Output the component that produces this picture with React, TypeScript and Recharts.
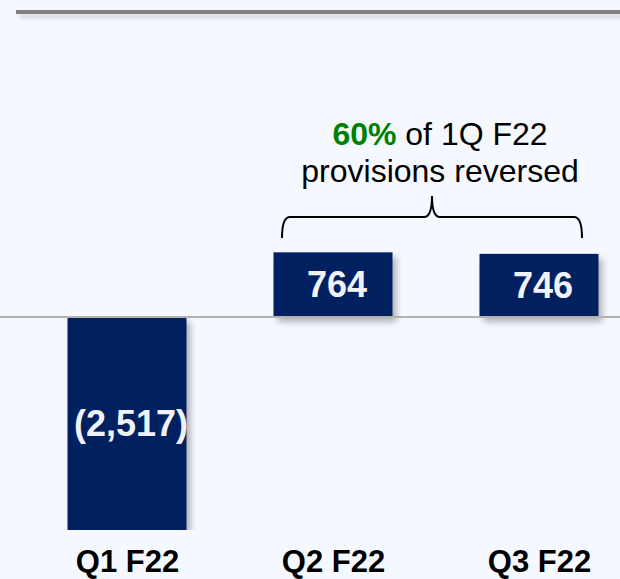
import React from 'react';
import { BarChart, Bar, XAxis, YAxis, ReferenceLine, LabelList } from 'recharts';

// quarterly provision movements
const quarters = ['Q1 F22', 'Q2 F22', 'Q3 F22'];
const provisions = [-2517, 764, 746];

const data = quarters.map((quarter, i) => ({ idx: i, quarter, value: provisions[i] }));

const W = 620;
const H = 579;
const NAVY = '#002060';
const BG = '#f5f8fe';
const FONT = '"Liberation Sans", Arial, Helvetica, sans-serif';

const PLOT_H = 530;
const ZERO_Y = 317;
const lo = Math.min(...provisions);
const hi = (-lo * ZERO_Y) / (PLOT_H - ZERO_Y);

const fmt = (v: number) =>
  v < 0 ? `(${Math.abs(v).toLocaleString('en-US')})` : v.toLocaleString('en-US');

const ShadowBar = (props: any) => {
  const { x, y, width, height } = props;
  const top = Math.min(y, y + height);
  const h = Math.abs(height);
  return (
    <rect
      x={x}
      y={top}
      width={width}
      height={h}
      fill={NAVY}
      style={{ filter: 'drop-shadow(4px 5px 3px rgba(0,0,0,0.28))' }}
    />
  );
};

const BarValue = (props: any) => {
  const { x, y, width, height, value } = props;
  return (
    <text
      x={x + width / 2 + 4}
      y={y + height / 2}
      textAnchor="middle"
      dominantBaseline="central"
      fill="#f0f2f8"
      fontSize={36}
      fontWeight="bold"
      fontFamily={FONT}
    >
      {fmt(value)}
    </text>
  );
};

const QuarterTick = (props: any) => {
  const { x, payload } = props;
  return (
    <text
      x={x}
      y={H - 7}
      textAnchor="middle"
      fill="#000"
      fontSize={31}
      fontWeight="bold"
      fontFamily={FONT}
    >
      {quarters[payload.value]}
    </text>
  );
};

const App: React.FC = () => {
  return (
    <div
      style={{
        position: 'fixed',
        left: 0,
        top: 0,
        width: W,
        height: H,
        background: BG,
        overflow: 'hidden',
      }}
    >
      {/* header rule */}
      <div
        style={{
          position: 'absolute',
          left: 16,
          top: 10,
          width: W - 16,
          height: 4,
          background: '#808080',
          boxShadow: '3px 4px 4px rgba(0,0,0,0.15)',
        }}
      />
      <BarChart width={W} height={H} data={data} margin={{ top: 0, right: 0, bottom: 0, left: 0 }}>
        <XAxis
          type="number"
          dataKey="idx"
          domain={[-127.5 / 206, (W - 127.5) / 206]}
          ticks={[0, 1, 2]}
          allowDataOverflow
          axisLine={false}
          tickLine={false}
          height={H - PLOT_H}
          tick={<QuarterTick />}
        />
        <YAxis hide domain={[lo, hi]} allowDataOverflow />
        <Bar dataKey="value" barSize={119} shape={<ShadowBar />} isAnimationActive={false}>
          <LabelList dataKey="value" content={<BarValue />} />
        </Bar>
        <ReferenceLine y={0} stroke="#b2b2b2" strokeWidth={2} />
      </BarChart>
      {/* bracket annotation */}
      <svg
        width={W}
        height={H}
        style={{ position: 'absolute', left: 0, top: 0, pointerEvents: 'none' }}
      >
        <text x={440} y={145} textAnchor="middle" fontSize={32} fontFamily={FONT} fill="#000">
          <tspan fill="#008000" fontWeight="bold">60%</tspan>
          <tspan> of 1Q F22</tspan>
        </text>
        <text x={440} y={182} textAnchor="middle" fontSize={32} fontFamily={FONT} fill="#000">
          provisions reversed
        </text>
        <path
          d="M282,238 Q282,217 290,217 L424,217 Q432,217 432,196 Q432,217 440,217 L574,217 Q582,217 582,238"
          fill="none"
          stroke="#000"
          strokeWidth={2}
        />
      </svg>
    </div>
  );
};

export default App;
